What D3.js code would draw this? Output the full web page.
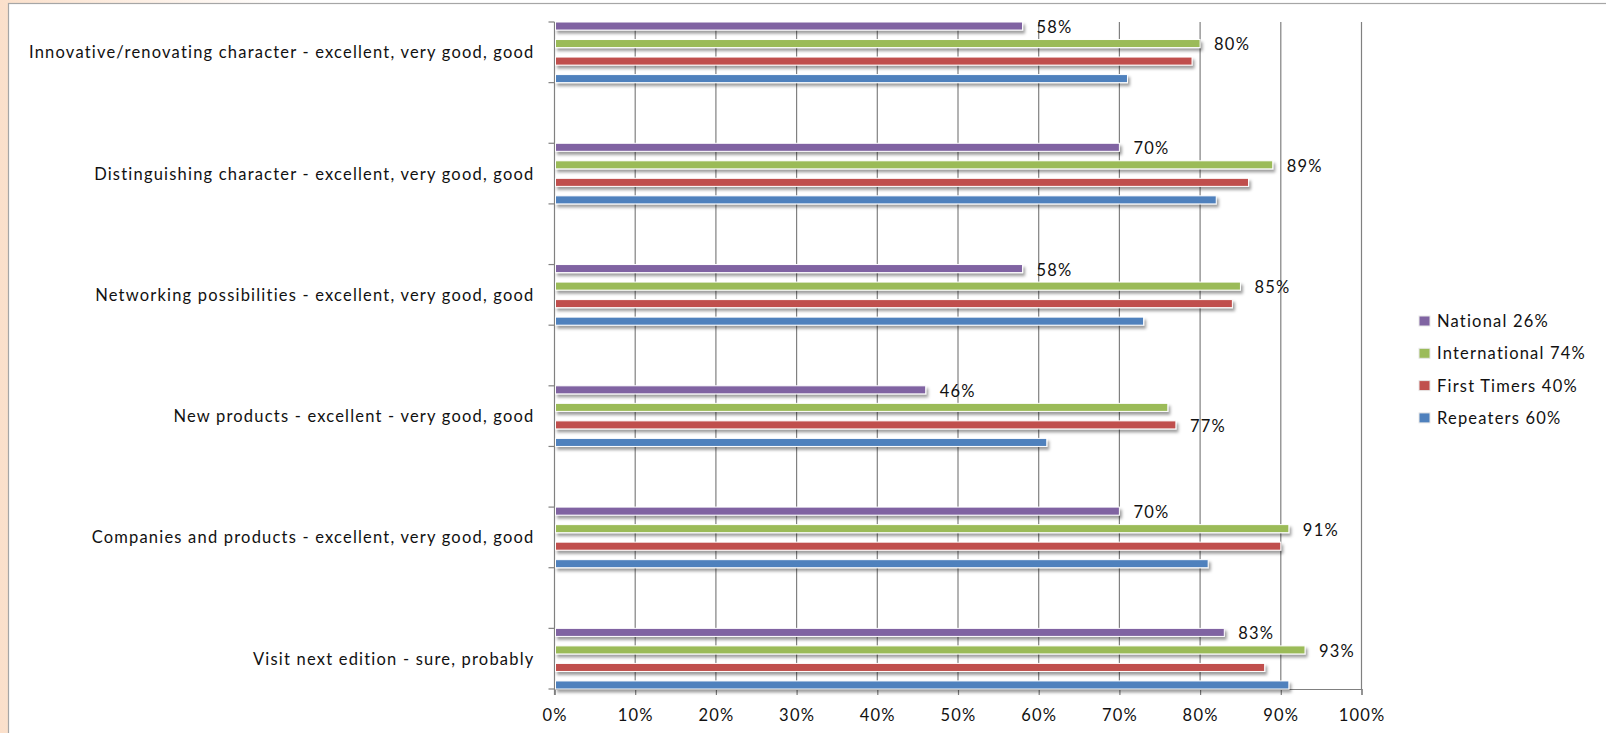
<!DOCTYPE html>
<html>
<head>
<meta charset="utf-8">
<script src="https://cdn.jsdelivr.net/npm/d3@7"></script>
<style>
  html, body { margin: 0; padding: 0; background: #fff; }
  svg { display: block; }
  text { font-family: Lato, "Open Sans", sans-serif; fill: #111; letter-spacing: 1.2px; }
</style>
</head>
<body>
<svg id="chart" width="1606" height="733"></svg>
<script>
// Survey categories, top to bottom
const categories = [
  "Innovative/renovating character - excellent, very good, good",
  "Distinguishing character - excellent, very good, good",
  "Networking possibilities - excellent, very good, good",
  "New products - excellent - very good, good",
  "Companies and products - excellent, very good, good",
  "Visit next edition - sure, probably"
];

// Visitor groups, drawn top to bottom inside each category
const seriesNames = ["National 26%", "International 74%", "First Timers 40%", "Repeaters 60%"];
const seriesColors = ["#8064A2", "#9BBB59", "#C0504D", "#4F81BD"];

// Share of positive answers (%) per category
const national      = [58, 70, 58, 46, 70, 83];
const international = [80, 89, 85, 76, 91, 93];
const firstTimers   = [79, 86, 84, 77, 90, 88];
const repeaters     = [71, 82, 73, 61, 81, 91];

// Which bars carry a value label
const labelNational      = [true, true, true, true, true, true];
const labelInternational = [true, true, true, false, true, true];
const labelFirstTimers   = [false, false, false, true, false, false];
const labelRepeaters     = [false, false, false, false, false, false];

const xTicks = [0, 10, 20, 30, 40, 50, 60, 70, 80, 90, 100];

const seriesValues = [national, international, firstTimers, repeaters];
const seriesLabels = [labelNational, labelInternational, labelFirstTimers, labelRepeaters];

const svg = d3.select("#chart");
const W = 1606, H = 733;
const FONT = 16.5;

// Background: peach tint fading out toward the right, chart area framed in grey
const defs = svg.append("defs");
const bg = defs.append("linearGradient").attr("id", "bgGrad")
  .attr("x1", 0).attr("x2", 1).attr("y1", 0).attr("y2", 0);
bg.append("stop").attr("offset", "0%").attr("stop-color", "#fbe0cb");
bg.append("stop").attr("offset", "18%").attr("stop-color", "#ffffff");

const shadow = defs.append("filter").attr("id", "barShadow")
  .attr("x", "-5%").attr("y", "-60%").attr("width", "110%").attr("height", "260%");
shadow.append("feDropShadow")
  .attr("dx", 2).attr("dy", 3).attr("stdDeviation", 1.4)
  .attr("flood-color", "#000").attr("flood-opacity", 0.38);

svg.append("rect").attr("width", W).attr("height", H).attr("fill", "url(#bgGrad)");
svg.append("rect")
  .attr("x", 8.5).attr("y", 3.5).attr("width", W).attr("height", H)
  .attr("fill", "#fff").attr("stroke", "#a6a6a6").attr("stroke-width", 1.2);

// Plot area
const plot = { left: 554.5, right: 1361.5, top: 22, bottom: 689 };

const x = d3.scaleLinear().domain([0, 100]).range([plot.left, plot.right]);
const y = d3.scaleBand().domain(categories)
  .range([plot.top, plot.bottom]).paddingInner(0.5).paddingOuter(0);
const ySub = d3.scaleBand().domain(seriesNames)
  .range([0, y.bandwidth()]).paddingInner(0.54).paddingOuter(0);

const g = svg.append("g");

// Vertical gridlines
g.append("g").selectAll("line").data(xTicks.slice(1)).join("line")
  .attr("x1", d => x(d)).attr("x2", d => x(d))
  .attr("y1", plot.top).attr("y2", plot.bottom)
  .attr("stroke", "#808080").attr("stroke-width", 1.2);

// Category axis (left) with ticks at every band edge
const edges = [];
categories.forEach(c => { edges.push(y(c)); edges.push(y(c) + y.bandwidth()); });
g.append("line")
  .attr("x1", plot.left).attr("x2", plot.left)
  .attr("y1", plot.top).attr("y2", plot.bottom + 6)
  .attr("stroke", "#808080").attr("stroke-width", 1.2);
g.append("g").selectAll("line").data(edges).join("line")
  .attr("x1", plot.left - 6).attr("x2", plot.left)
  .attr("y1", d => d).attr("y2", d => d)
  .attr("stroke", "#808080").attr("stroke-width", 1.2);

// Value axis (bottom)
const xAxis = d3.axisBottom(x).tickValues(xTicks).tickFormat(d => d + "%")
  .tickSize(6).tickPadding(14);
const xg = g.append("g").attr("transform", `translate(0,${plot.bottom})`).call(xAxis);
xg.select(".domain").attr("stroke", "#808080").attr("stroke-width", 1.2);
xg.selectAll(".tick line").attr("stroke", "#808080").attr("stroke-width", 1.2);
xg.selectAll(".tick text").attr("font-size", FONT).attr("fill", "#111")
  .attr("font-family", "Lato, 'Open Sans', sans-serif");

// Category labels
g.append("g").selectAll("text").data(categories).join("text")
  .attr("x", plot.left - 20)
  .attr("y", d => y(d) + y.bandwidth() / 2)
  .attr("dy", "0.36em")
  .attr("text-anchor", "end")
  .attr("font-size", FONT)
  .text(d => d);

// Bars
const barData = [];
categories.forEach((c, i) => {
  seriesNames.forEach((s, k) => {
    barData.push({ cat: c, series: s, value: seriesValues[k][i], color: seriesColors[k], label: seriesLabels[k][i] });
  });
});

g.append("g").selectAll("rect").data(barData).join("rect")
  .attr("x", x(0) + 1)
  .attr("y", d => y(d.cat) + ySub(d.series))
  .attr("width", d => x(d.value) - x(0) - 1)
  .attr("height", ySub.bandwidth())
  .attr("fill", d => d.color)
  .attr("stroke", "#ffffff").attr("stroke-width", 1)
  .attr("filter", "url(#barShadow)");

// Value labels
g.append("g").selectAll("text").data(barData.filter(d => d.label)).join("text")
  .attr("x", d => x(d.value) + 14)
  .attr("y", d => y(d.cat) + ySub(d.series) + ySub.bandwidth() / 2 + 1)
  .attr("dy", "0.36em")
  .attr("font-size", FONT)
  .text(d => d.value + "%");

// Legend
const legend = svg.append("g").attr("transform", "translate(1419,321)");
const items = legend.selectAll("g").data(seriesNames).join("g")
  .attr("transform", (d, i) => `translate(0,${i * 32.3})`);
items.append("rect")
  .attr("x", 0).attr("y", -5).attr("width", 11).attr("height", 10)
  .attr("fill", (d, i) => seriesColors[i])
  .attr("stroke", "#e8e8e8").attr("stroke-width", 1);
items.append("text")
  .attr("x", 18).attr("y", 0).attr("dy", "0.36em")
  .attr("font-size", FONT)
  .text(d => d);
</script>
</body>
</html>
